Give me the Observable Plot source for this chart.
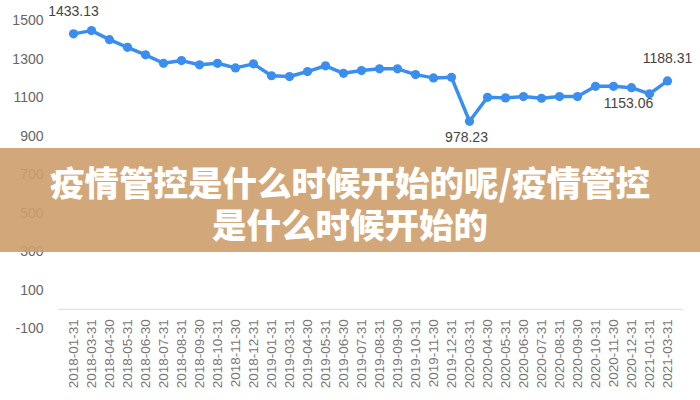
<!DOCTYPE html>
<html>
<head>
<meta charset="utf-8">
<script src="https://cdn.jsdelivr.net/npm/d3@7"></script>
<script src="https://cdn.jsdelivr.net/npm/@observablehq/plot@0.6"></script>
<style>
  html, body { margin: 0; padding: 0; background: #fff; }
  #wrap { position: relative; width: 700px; height: 400px; overflow: hidden; }
  #banner {
    position: absolute; left: 0; top: 148px; width: 700px; height: 104px;
    background: rgba(205, 158, 109, 0.9);
    color: #fff; text-align: center;
    font-family: "Noto Sans CJK SC", sans-serif; font-weight: 900;
    font-size: 34.5px; line-height: 42px;
    padding-top: 12px; box-sizing: border-box;
  }
</style>
</head>
<body>
<div id="wrap">
  <div id="chart"></div>
  <div id="banner">疫情管控是什么时候开始的呢/疫情管控<br>是什么时候开始的</div>
</div>
<script>
const dates = [
  "2018-01-31","2018-03-31","2018-04-30","2018-05-31","2018-06-30","2018-07-31",
  "2018-08-31","2018-09-30","2018-10-31","2018-11-30","2018-12-31","2019-01-31",
  "2019-03-31","2019-04-30","2019-05-31","2019-06-30","2019-07-31","2019-08-31",
  "2019-09-30","2019-10-31","2019-11-30","2019-12-31","2020-03-31","2020-04-30",
  "2020-05-31","2020-06-30","2020-07-31","2020-08-31","2020-09-30","2020-10-31",
  "2020-11-30","2020-12-31","2021-01-31","2021-03-31"
];
const values = [
  1433.13, 1450, 1403, 1363, 1324, 1280,
  1294, 1272, 1280, 1256, 1277, 1215,
  1211, 1237, 1267, 1228, 1242, 1251,
  1251, 1221, 1204, 1207, 978.23, 1103,
  1100, 1107, 1098, 1107, 1107, 1160,
  1160, 1153.06, 1121, 1188.31
];
const yTicks = [-100, 100, 300, 500, 700, 900, 1100, 1300, 1500];
const labelsAbove = ["2018-01-31", "2021-03-31"];
const labelsBelow = ["2020-03-31", "2020-12-31"];

const rows = dates.map((d, i) => ({date: d, value: values[i]}));
const above = rows.filter(r => labelsAbove.includes(r.date));
const below = rows.filter(r => labelsBelow.includes(r.date));
const blue = "#3a8ef0";

const chart = Plot.plot({
  width: 700,
  height: 400,
  marginLeft: 67,
  marginRight: 27,
  marginTop: 20.5,
  marginBottom: 72,
  style: {fontFamily: "'Liberation Sans', Arial, sans-serif", background: "transparent"},
  x: {type: "point", domain: dates, padding: 0, range: [67, 673], axis: null},
  y: {domain: [-100, 1500], range: [328, 20.5], axis: null},
  marks: [
    Plot.ruleY([0], {stroke: "#e3e3e3", strokeWidth: 1.2, insetLeft: -9, insetRight: -10}),
    Plot.axisY({ticks: yTicks, tickSize: 0, tickPadding: 24, fontSize: 14, color: "#666", label: null, tickFormat: d => String(d)}),
    Plot.text(dates, {x: d => d, y: d => 0, text: d => d, rotate: -90, textAnchor: "end", dy: 10, fontSize: 13.5, fill: "#777"}),
    Plot.line(rows, {x: "date", y: "value", stroke: blue, strokeWidth: 3.5, strokeLinejoin: "round"}),
    Plot.dot(rows, {x: "date", y: "value", r: 4.6, fill: blue, stroke: "none"}),
    Plot.text(above, {x: "date", y: "value", text: d => d.value.toFixed(2), dy: -22, fontSize: 14, fill: "#444"}),
    Plot.text(below, {x: "date", y: "value", text: d => d.value.toFixed(2), dy: 16, dx: -3, fontSize: 14, fill: "#444"})
  ]
});
document.getElementById("chart").appendChild(chart);
</script>
</body>
</html>
